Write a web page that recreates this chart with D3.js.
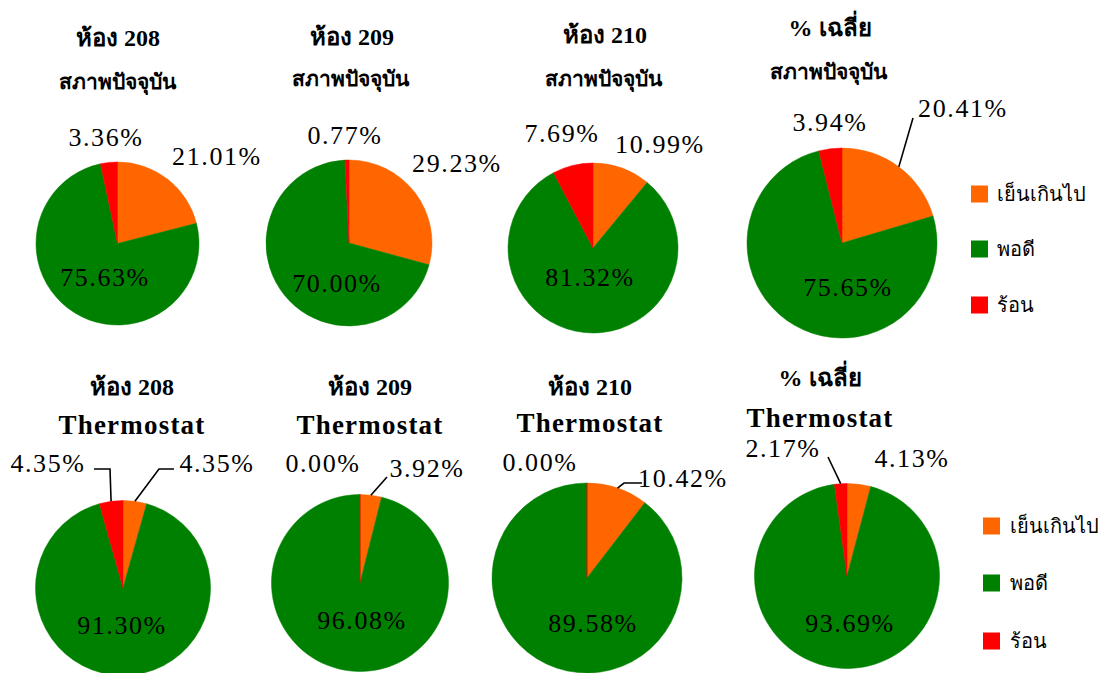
<!DOCTYPE html>
<html>
<head>
<meta charset="utf-8">
<script src="https://cdn.jsdelivr.net/npm/d3@7"></script>
<style>
  html, body { margin: 0; padding: 0; background: #fff; }
</style>
</head>
<body>
<svg id="chart" width="1102" height="673" font-family="'Liberation Serif', 'Times New Roman', 'DejaVu Serif', serif"></svg>
<script>
// Comfort survey: share of responses per room, current state vs. thermostat
const categories = ["เย็นเกินไป", "พอดี", "ร้อน"];
const colors = ["#FF6600", "#008000", "#FF0000"];

const titleLine1 = ["ห้อง 208", "ห้อง 209", "ห้อง 210", "% เฉลี่ย",
                    "ห้อง 208", "ห้อง 209", "ห้อง 210", "% เฉลี่ย"];
const titleLine2 = ["สภาพปัจจุบัน", "สภาพปัจจุบัน", "สภาพปัจจุบัน", "สภาพปัจจุบัน",
                    "Thermostat", "Thermostat", "Thermostat", "Thermostat"];

const tooCold     = [21.01, 29.23, 10.99, 20.41, 4.35, 3.92, 10.42, 4.13];
const comfortable = [75.63, 70.00, 81.32, 75.65, 91.30, 96.08, 89.58, 93.69];
const tooHot      = [3.36, 0.77, 7.69, 3.94, 4.35, 0.00, 0.00, 2.17];

// Layout of each pie: centre, radius, title placement,
// label offsets from the centre and leader-line bends
const layout = [
  { cx: 117.5, cy: 243.5, r: 81.5, tx: 118, ty1: 38, tx2: 117, ty2: 82,
    lab: [[99.5, -87.5], [-12.5, 33.5], [-11.5, -106.5]], leaders: [] },
  { cx: 349, cy: 243, r: 83, tx: 352, ty1: 37, tx2: 350, ty2: 79,
    lab: [[108, -80], [-12, 40], [-4, -108]], leaders: [] },
  { cx: 593, cy: 248, r: 85, tx: 605, ty1: 35, tx2: 603, ty2: 79,
    lab: [[67, -104], [-3, 29], [-31, -115]], leaders: [] },
  { cx: 842, cy: 243, r: 95, tx: 830, ty1: 28, tx2: 828, ty2: 72,
    lab: [[121, -135], [6, 44], [-12, -121]],
    leaders: [{ i: 0, pts: [[71, -125]] }] },
  { cx: 123, cy: 588, r: 87.5, tx: 132, ty1: 387, tx2: 132, ty2: 425,
    lab: [[94, -125], [-1, 37], [-75, -125]],
    leaders: [{ i: 2, pts: [[-13, -119], [-29, -119]] },
              { i: 0, pts: [[36, -119], [51, -119]] }] },
  { cx: 360, cy: 583, r: 88.5, tx: 370, ty1: 387, tx2: 370, ty2: 425,
    lab: [[67, -115], [2, 37], [-37, -120]],
    leaders: [{ i: 0, pts: [[27, -106]] }] },
  { cx: 587, cy: 578, r: 95, tx: 590, ty1: 387, tx2: 590, ty2: 423,
    lab: [[96, -100], [6, 45], [-47, -116]],
    leaders: [{ i: 0, pts: [[37, -95], [55, -95]] }] },
  { cx: 847, cy: 576, r: 92.5, tx: 820, ty1: 378, tx2: 820, ty2: 418,
    lab: [[65, -118], [3, 47], [-64, -128]],
    leaders: [{ i: 2, pts: [[-19, -119]] }] }
];

const legends = [
  { sx: 971, tx: 997, ys: [194, 249, 305] },
  { sx: 983, tx: 1010, ys: [526, 583, 641] }
];

const serif = "'Liberation Serif', 'Times New Roman', 'DejaVu Serif', serif";

const svg = d3.select("#chart");
const color = d3.scaleOrdinal().domain(categories).range(colors);
const pie = d3.pie().sort(null).value(d => d.value);
const fmt = d => d.toFixed(2) + "%";

layout.forEach((L, k) => {
  const data = [
    { cat: categories[0], value: tooCold[k] },
    { cat: categories[1], value: comfortable[k] },
    { cat: categories[2], value: tooHot[k] }
  ];
  const arcs = pie(data);
  const arc = d3.arc().innerRadius(0).outerRadius(L.r);

  const g = svg.append("g").attr("transform", `translate(${L.cx},${L.cy})`);

  g.selectAll("path.slice")
    .data(arcs)
    .join("path")
    .attr("class", "slice")
    .attr("d", arc)
    .attr("fill", d => color(d.data.cat))
    .attr("stroke", d => color(d.data.cat))
    .attr("stroke-width", 0.5);

  // leader lines from the slice edge midpoint to the label
  L.leaders.forEach(ld => {
    const a = arcs[ld.i];
    const mid = (a.startAngle + a.endAngle) / 2;
    const start = [Math.sin(mid) * L.r, -Math.cos(mid) * L.r];
    g.append("path")
      .attr("d", d3.line()([start, ...ld.pts]))
      .attr("fill", "none")
      .attr("stroke", "#000")
      .attr("stroke-width", 1.6);
  });

  g.selectAll("text.val")
    .data(arcs)
    .join("text")
    .attr("class", "val")
    .attr("x", (d, i) => L.lab[i][0])
    .attr("y", (d, i) => L.lab[i][1])
    .attr("text-anchor", "middle")
    .attr("dominant-baseline", "central")
    .attr("font-family", serif)
    .attr("font-size", 26)
    .attr("letter-spacing", 1.6)
    .attr("fill", "#000")
    .text(d => fmt(d.data.value));

  svg.append("text")
    .attr("x", L.tx).attr("y", L.ty1)
    .attr("text-anchor", "middle")
    .attr("dominant-baseline", "central")
    .attr("font-family", serif)
    .attr("font-size", 24)
    .attr("font-weight", "bold")
    .text(titleLine1[k]);

  const isThai = /[\u0E00-\u0E7F]/.test(titleLine2[k]);
  svg.append("text")
    .attr("x", L.tx2).attr("y", L.ty2)
    .attr("text-anchor", "middle")
    .attr("dominant-baseline", "central")
    .attr("font-family", serif)
    .attr("font-size", isThai ? 21 : 27)
    .attr("letter-spacing", isThai ? 0 : 1.2)
    .attr("font-weight", "bold")
    .text(titleLine2[k]);
});

legends.forEach(lg => {
  const items = svg.append("g").selectAll("g")
    .data(categories)
    .join("g");
  items.append("rect")
    .attr("x", lg.sx)
    .attr("y", (d, i) => lg.ys[i] - 8.5)
    .attr("width", 17)
    .attr("height", 17)
    .attr("fill", d => color(d));
  items.append("text")
    .attr("x", lg.tx)
    .attr("y", (d, i) => lg.ys[i])
    .attr("dominant-baseline", "central")
    .attr("font-family", serif)
    .attr("font-size", 20)
    .text(d => d);
});
</script>
</body>
</html>
